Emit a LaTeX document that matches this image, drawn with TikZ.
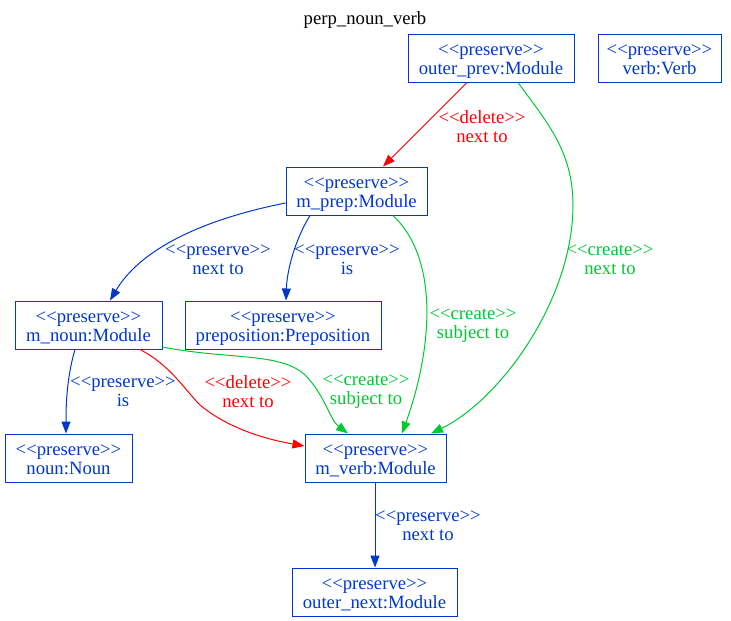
\documentclass[tikz,border=0pt]{standalone}
\usepackage{fontspec}
\setmainfont{Liberation Serif}
\usetikzlibrary{arrows.meta}
\definecolor{cblue}{RGB}{0,56,204}
\definecolor{cgreen}{RGB}{0,200,50}
\definecolor{cred}{RGB}{255,0,0}
\newcommand\stereo[1]{<\kern0pt<#1>\kern0pt>}
\begin{document}
\begin{tikzpicture}[x=1pt,y=-1pt,
  font=\fontsize{18.7}{19}\selectfont,
  box/.style={draw=cblue, text=cblue, line width=1pt, align=center, inner sep=0pt,
    minimum height=48pt, text height=34pt, text depth=2pt},
  lbl/.style={align=center, inner sep=0pt},
  edge/.style={line width=1pt, -{Triangle[length=12pt,width=9pt]}},
  bedge/.style={edge, draw=cblue},
  gedge/.style={edge, draw=cgreen},
  redge/.style={edge, draw=cred},
]
\useasboundingbox (0,0) rectangle (731,621);
\node[lbl] (title) at (365,20) {perp\_noun\_verb};

\node[box, minimum width=166pt] (oprev) at (491,58) {\stereo{preserve}\\outer\_prev:Module};
\node[box, minimum width=123pt] (verb) at (659.5,58) {\stereo{preserve}\\verb:Verb};
\node[box, minimum width=141pt] (mprep) at (356.5,191) {\stereo{preserve}\\m\_prep:Module};
\node[box, minimum width=147pt] (mnoun) at (88.5,325) {\stereo{preserve}\\m\_noun:Module};
\node[box, minimum width=196pt] (prepo) at (283,325) {\stereo{preserve}\\preposition:Preposition};
\node[box, minimum width=127pt] (noun) at (68.5,458) {\stereo{preserve}\\noun:Noun};
\node[box, minimum width=141pt] (mverb) at (375.5,458) {\stereo{preserve}\\m\_verb:Module};
\node[box, minimum width=165pt] (onext) at (374.5,592) {\stereo{preserve}\\outer\_next:Module};

% outer_prev -> m_prep (delete)
\draw[redge] (oprev.south -| 467,0) -- (mprep.north -| 383,0);
\node[lbl, text=cred] (l1) at (482,127) {\stereo{delete}\\next to};

% outer_prev -> m_verb (create)
\draw[gedge] (oprev.south -| 518,0) .. controls (545,120) and (573,150) .. (573,205)
  .. controls (573,300) and (500,400) .. (mverb.north -| 431,0);
\node[lbl, text=cgreen] (l2) at (610,260) {\stereo{create}\\next to};

% m_prep -> m_noun
\draw[bedge] (mprep.west |- 0,203) .. controls (200,220) and (140,250) .. (mnoun.north -| 110,0);
\node[lbl, text=cblue] (l3) at (218,260) {\stereo{preserve}\\next to};

% m_prep -> preposition
\draw[bedge] (mprep.south -| 310,0) .. controls (295,240) and (287,270) .. (prepo.north -| 286,0);
\node[lbl, text=cblue] (l4) at (347,260) {\stereo{preserve}\\is};

% m_prep -> m_verb (create subject to)
\draw[gedge] (mprep.south -| 393,0) .. controls (440,260) and (432,350) .. (mverb.north -| 402,0);
\node[lbl, text=cgreen] (l5) at (473,326) {\stereo{create}\\subject to};

% m_noun -> noun
\draw[bedge] (mnoun.south -| 75,0) .. controls (66,380) and (66,410) .. (noun.north -| 66,0);
\node[lbl, text=cblue] (l6) at (123,392) {\stereo{preserve}\\is};

% m_noun -> m_verb (delete)
\draw[redge] (mnoun.south -| 140,0) .. controls (170,365) and (185,390) .. (200,405)
  .. controls (230,430) and (270,440) .. (mverb.west |- 0,446);
\node[lbl, text=cred] (l7) at (248,392) {\stereo{delete}\\next to};

% m_noun -> m_verb (create)
\draw[gedge] (mnoun.east |- 0,347) .. controls (230,360) and (280,352) .. (305,375)
  .. controls (325,395) and (330,420) .. (mverb.north -| 348,0);
\node[lbl, text=cgreen] (l8) at (366,392) {\stereo{create}\\subject to};

% m_verb -> outer_next
\draw[bedge] (mverb.south -| 375,0) -- (onext.north -| 375,0);
\node[lbl, text=cblue] (l9) at (428,526) {\stereo{preserve}\\next to};
\end{tikzpicture}
\end{document}
